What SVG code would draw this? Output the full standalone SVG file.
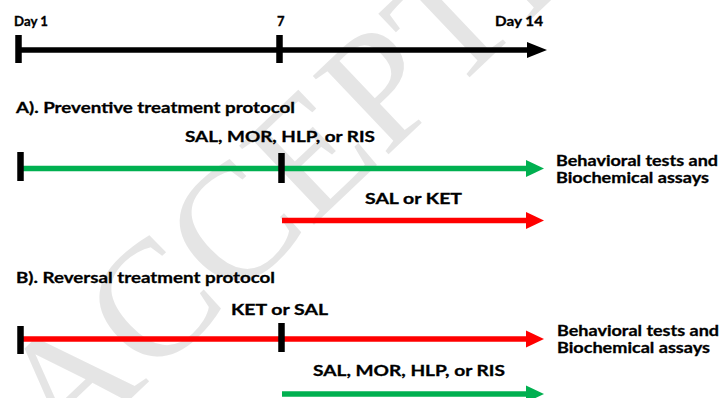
<svg xmlns="http://www.w3.org/2000/svg" width="723" height="398" viewBox="0 0 723 398">
<style>
.t{font-family:Lato,"Liberation Sans",sans-serif;font-weight:bold;fill:#000;stroke:#000;stroke-width:0.3;}
.s{font-size:13px;}
.m{font-size:15px;}
.h{font-size:15.5px;}
.wm{font-family:"Liberation Serif",serif;font-size:166px;fill:#e5e5e5;}
.blk{stroke:#000;stroke-width:5.5;fill:none;}
.grn{stroke:#00b050;stroke-width:5.5;fill:none;}
.red{stroke:#ff0000;stroke-width:5.5;fill:none;}
.tick{stroke:#000;stroke-width:6.5;}
</style>
<rect width="723" height="398" fill="#fff"/>
<text class="wm" transform="translate(63,463) rotate(-43.5)">ACCEPTED</text>
<g id="connectors">
  <line class="blk" x1="18" y1="50" x2="528" y2="50"/>
  <polygon points="527,42 547,50 527,58" fill="#000"/>
  <line class="grn" x1="21" y1="168.5" x2="527" y2="168.5"/>
  <polygon points="526,160 544,168.5 526,177" fill="#00b050"/>
  <line class="red" x1="282" y1="220.5" x2="527" y2="220.5"/>
  <polygon points="526,212 544,220.5 526,229" fill="#ff0000"/>
  <line class="red" x1="21" y1="339" x2="527" y2="339"/>
  <polygon points="526,330.5 544,339 526,347.5" fill="#ff0000"/>
  <line class="grn" x1="282" y1="394" x2="527" y2="394"/>
  <polygon points="526,385.5 544,394 526,402.5" fill="#00b050"/>
</g>
<g id="ticks">
  <line class="tick" x1="18.5" y1="35" x2="18.5" y2="63"/>
  <line class="tick" x1="279.5" y1="35" x2="279.5" y2="63"/>
  <line class="tick" x1="20.5" y1="152" x2="20.5" y2="181"/>
  <line class="tick" x1="281.5" y1="153" x2="281.5" y2="183"/>
  <line class="tick" x1="20.5" y1="326" x2="20.5" y2="354"/>
  <line class="tick" x1="281.5" y1="323" x2="281.5" y2="352"/>
</g>
<g id="timeline-labels">
  <text class="t s" x="14" y="26" textLength="34" lengthAdjust="spacingAndGlyphs">Day 1</text>
  <text class="t s" x="277" y="25.5">7</text>
  <text class="t s" x="495" y="26" textLength="48" lengthAdjust="spacingAndGlyphs">Day 14</text>
</g>
<g id="protocol-a">
  <text class="t h" x="16" y="113" textLength="279" lengthAdjust="spacingAndGlyphs">A). Preventive treatment protocol</text>
  <text class="t m" x="185" y="142" textLength="190" lengthAdjust="spacingAndGlyphs">SAL, MOR, HLP, or RIS</text>
  <text class="t m" x="556" y="165.5" textLength="162" lengthAdjust="spacingAndGlyphs">Behavioral tests and</text>
  <text class="t m" x="556" y="183" textLength="153" lengthAdjust="spacingAndGlyphs">Biochemical assays</text>
  <text class="t m" x="365" y="204" textLength="97" lengthAdjust="spacingAndGlyphs">SAL or KET</text>
</g>
<g id="protocol-b">
  <text class="t h" x="16" y="283" textLength="259" lengthAdjust="spacingAndGlyphs">B). Reversal treatment protocol</text>
  <text class="t m" x="231" y="315" textLength="97" lengthAdjust="spacingAndGlyphs">KET or SAL</text>
  <text class="t m" x="557" y="336" textLength="162" lengthAdjust="spacingAndGlyphs">Behavioral tests and</text>
  <text class="t m" x="557" y="353" textLength="153" lengthAdjust="spacingAndGlyphs">Biochemical assays</text>
  <text class="t m" x="313" y="376" textLength="192" lengthAdjust="spacingAndGlyphs">SAL, MOR, HLP, or RIS</text>
</g>
</svg>
